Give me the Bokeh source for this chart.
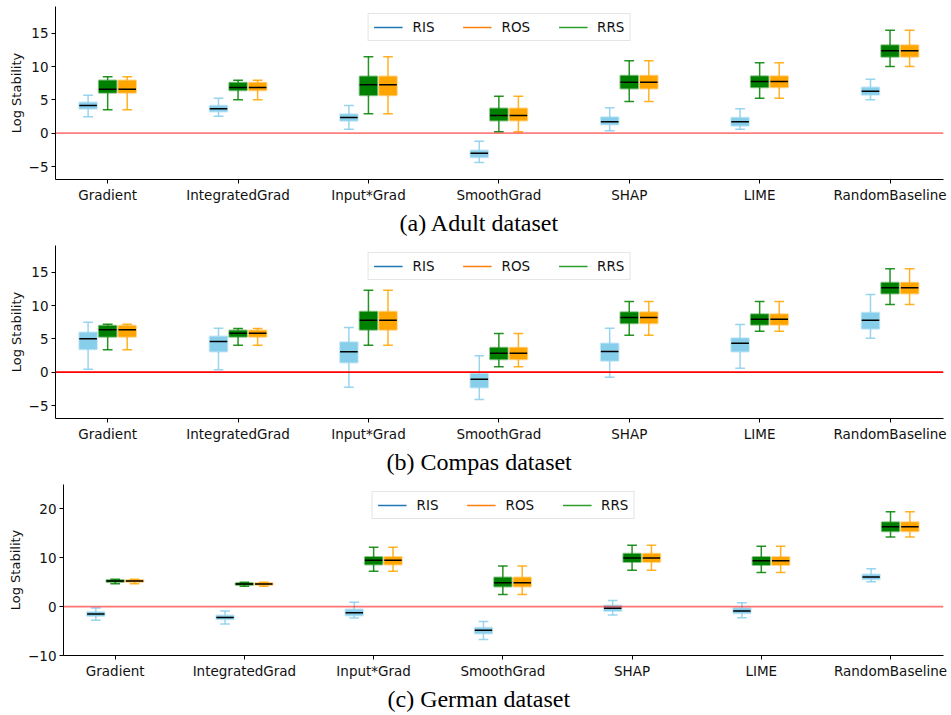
from bokeh.plotting import figure
from bokeh.models import Range1d, FixedTicker, Title, Legend, LegendItem, Span, ColumnDataSource
from bokeh.embed import file_html
from bokeh.resources import INLINE

methods = ["Gradient", "IntegratedGrad", "Input*Grad", "SmoothGrad", "SHAP", "LIME", "RandomBaseline"]
series_names = ["RIS", "ROS", "RRS"]

# ---- Adult ----
adult_ris_low = [2.45, 2.55, 0.6, -4.4, 0.35, 0.6, 5.0]
adult_ris_q1 = [3.65, 3.25, 1.85, -3.6, 1.3, 1.1, 5.75]
adult_ris_med = [4.15, 3.65, 2.35, -3.0, 1.7, 1.7, 6.3]
adult_ris_q3 = [4.6, 4.1, 2.85, -2.6, 2.4, 2.3, 6.85]
adult_ris_high = [5.7, 5.25, 4.15, -1.2, 3.8, 3.65, 8.1]
adult_rrs_low = [3.5, 5.0, 2.9, 0.2, 4.75, 5.25, 10.0]
adult_rrs_q1 = [6.05, 6.45, 5.7, 1.9, 6.7, 6.9, 11.45]
adult_rrs_med = [6.6, 6.85, 7.25, 2.65, 7.65, 7.75, 12.35]
adult_rrs_q3 = [7.9, 7.55, 8.5, 3.7, 8.6, 8.55, 13.2]
adult_rrs_high = [8.45, 7.95, 11.45, 5.55, 10.85, 10.55, 15.45]
adult_ros_low = [3.5, 5.0, 2.9, 0.2, 4.75, 5.25, 10.0]
adult_ros_q1 = [6.05, 6.45, 5.7, 1.9, 6.7, 6.9, 11.45]
adult_ros_med = [6.6, 6.85, 7.25, 2.65, 7.65, 7.75, 12.35]
adult_ros_q3 = [7.9, 7.55, 8.5, 3.7, 8.6, 8.55, 13.2]
adult_ros_high = [8.45, 7.95, 11.45, 5.55, 10.85, 10.55, 15.45]

# ---- Compas ----
compas_ris_low = [0.45, 0.35, -2.25, -4.1, -0.75, 0.6, 5.1]
compas_ris_q1 = [3.45, 3.1, 1.45, -2.3, 1.7, 3.1, 6.5]
compas_ris_med = [5.0, 4.6, 3.05, -1.05, 3.1, 4.35, 7.8]
compas_ris_q3 = [5.95, 5.35, 4.5, -0.25, 4.3, 5.1, 8.9]
compas_ris_high = [7.5, 6.6, 6.7, 2.45, 6.6, 7.15, 11.65]
compas_rrs_low = [3.35, 4.05, 4.05, 0.8, 5.55, 6.15, 10.15]
compas_rrs_q1 = [5.3, 5.3, 6.35, 1.95, 7.35, 7.1, 11.8]
compas_rrs_med = [6.35, 5.85, 7.8, 2.85, 8.2, 7.95, 12.65]
compas_rrs_q3 = [6.95, 6.25, 9.05, 3.65, 9.0, 8.7, 13.4]
compas_rrs_high = [7.2, 6.55, 12.3, 5.8, 10.6, 10.6, 15.5]
compas_ros_low = [3.35, 4.05, 4.05, 0.8, 5.55, 6.15, 10.15]
compas_ros_q1 = [5.3, 5.3, 6.35, 1.95, 7.35, 7.1, 11.8]
compas_ros_med = [6.35, 5.85, 7.8, 2.85, 8.2, 7.95, 12.65]
compas_ros_q3 = [6.95, 6.25, 9.05, 3.65, 9.0, 8.7, 13.4]
compas_ros_high = [7.2, 6.55, 12.3, 5.8, 10.6, 10.6, 15.5]

# ---- German ----
german_ris_low = [-2.8, -3.55, -2.3, -6.75, -1.7, -2.25, 5.1]
german_ris_q1 = [-1.9, -2.6, -1.8, -5.5, -0.9, -1.35, 5.6]
german_ris_med = [-1.5, -2.2, -1.25, -4.85, -0.35, -0.9, 6.05]
german_ris_q3 = [-1.1, -1.8, -0.6, -4.3, 0.25, -0.35, 6.6]
german_ris_high = [-0.3, -0.9, 0.9, -3.05, 1.25, 0.8, 7.75]
german_rrs_low = [4.7, 4.15, 7.25, 2.5, 7.45, 7.0, 14.25]
german_rrs_q1 = [5.05, 4.45, 8.65, 4.1, 9.15, 8.5, 15.45]
german_rrs_med = [5.25, 4.65, 9.5, 4.9, 9.95, 9.4, 16.35]
german_rrs_q3 = [5.45, 4.85, 10.15, 5.95, 10.85, 10.15, 17.25]
german_rrs_high = [5.6, 5.0, 12.15, 8.3, 12.55, 12.35, 19.4]
german_ros_low = [4.7, 4.15, 7.25, 2.5, 7.45, 7.0, 14.25]
german_ros_q1 = [5.05, 4.45, 8.65, 4.1, 9.15, 8.5, 15.45]
german_ros_med = [5.25, 4.65, 9.5, 4.9, 9.95, 9.4, 16.35]
german_ros_q3 = [5.45, 4.85, 10.15, 5.95, 10.85, 10.15, 17.25]
german_ros_high = [5.6, 5.0, 12.15, 8.3, 12.55, 12.35, 19.4]

adult_yticks = [-5, 0, 5, 10, 15]
compas_yticks = [-5, 0, 5, 10, 15]
german_yticks = [-10, 0, 10, 20]

positions = list(range(1, len(methods) + 1))
box_colors = {"RIS": "#87ceeb", "RRS": "#008000", "ROS": "#ffa500"}
legend_colors = {"RIS": "#1f77b4", "ROS": "#ff7f0e", "RRS": "#2ca02c"}
offsets = {"RIS": -0.15, "RRS": 0.0, "ROS": 0.15}
BOX_W = 0.135
CAP_W = 0.075
TICK_FONT = "DejaVu Sans"


def make_panel(stats, yrange, yticks, caption, zero_color, zero_alpha,
               height, top, bottom, left, cap_offset):
    p = figure(width=948, height=height, output_backend="svg", toolbar_location=None,
               x_range=Range1d(0.6, 7.41), y_range=Range1d(*yrange),
               min_border_left=left, min_border_right=5,
               min_border_top=top, min_border_bottom=bottom)
    p.outline_line_color = None
    p.grid.visible = False
    p.background_fill_color = "white"

    zero = Span(location=0, dimension="width", line_color=zero_color,
                line_alpha=zero_alpha, line_width=1.6)
    p.add_layout(zero)

    for name in ["RIS", "RRS", "ROS"]:
        low, q1, med, q3, high = stats[name]
        xs = [x + offsets[name] for x in positions]
        src = ColumnDataSource(dict(
            x=xs, low=low, q1=q1, med=med, q3=q3, high=high,
            xl=[x - BOX_W / 2 for x in xs], xr=[x + BOX_W / 2 for x in xs],
            cl=[x - CAP_W / 2 for x in xs], cr=[x + CAP_W / 2 for x in xs]))
        c = box_colors[name]
        p.segment(x0="x", y0="q3", x1="x", y1="high", source=src,
                  line_color=c, line_width=1.5, line_alpha=0.85)
        p.segment(x0="x", y0="q1", x1="x", y1="low", source=src,
                  line_color=c, line_width=1.5, line_alpha=0.85)
        p.segment(x0="cl", y0="high", x1="cr", y1="high", source=src,
                  line_color=c, line_width=1.5, line_alpha=0.85)
        p.segment(x0="cl", y0="low", x1="cr", y1="low", source=src,
                  line_color=c, line_width=1.5, line_alpha=0.85)
        p.vbar(x="x", top="q3", bottom="q1", width=BOX_W, source=src,
               fill_color=c, line_color=c, line_alpha=0.45, line_width=2)
        p.segment(x0="xl", y0="med", x1="xr", y1="med", source=src,
                  line_color="black", line_width=1.5)

    items = []
    for name in series_names:
        med = stats[name][2]
        r = p.line(x=[positions[0]], y=[med[0]], line_color=legend_colors[name], line_width=1.6)
        items.append(LegendItem(label=name, renderers=[r]))
    leg = Legend(items=items, orientation="horizontal", location="top_center",
                 glyph_width=29, glyph_height=14, label_standoff=10, spacing=28,
                 padding=5, margin=7, label_text_font=TICK_FONT,
                 label_text_font_size="13.5px", label_text_color="#111111",
                 border_line_color="#cccccc", border_line_width=1,
                 background_fill_alpha=0.85)
    p.add_layout(leg, "center")

    p.xaxis.ticker = FixedTicker(ticks=positions)
    p.xaxis.major_label_overrides = {pos: m for pos, m in zip(positions, methods)}
    p.yaxis.ticker = FixedTicker(ticks=yticks)
    p.yaxis.major_label_overrides = {t: (str(t) if t >= 0 else "\u2212" + str(-t)) for t in yticks}
    for ax in (p.xaxis, p.yaxis):
        ax.minor_tick_line_color = None
        ax.major_tick_out = 4
        ax.major_tick_in = 0
        ax.axis_line_color = "black"
        ax.major_tick_line_color = "black"
        ax.major_label_text_font = TICK_FONT
        ax.major_label_text_font_size = "13.5px"
        ax.major_label_text_color = "#111111"
        ax.major_label_standoff = 3
    p.yaxis.axis_label = "Log Stability"
    p.yaxis.axis_label_text_font = TICK_FONT
    p.yaxis.axis_label_text_font_size = "13px"
    p.yaxis.axis_label_text_font_style = "normal"
    p.yaxis.axis_label_text_color = "#111111"
    p.yaxis.axis_label_standoff = 2

    t = Title(text=caption, align="left", offset=cap_offset,
              text_font="Liberation Serif", text_font_size="24px",
              text_font_style="normal", text_color="black", standoff=4)
    p.add_layout(t, "below")
    return p


def stats_of(prefix):
    g = globals()
    out = {}
    for s in ["ris", "rrs", "ros"]:
        out[s.upper()] = [g[f"{prefix}_{s}_{k}"] for k in ["low", "q1", "med", "q3", "high"]]
    return out


pa = make_panel(stats_of("adult"), (-6.95, 19.0), adult_yticks, "(a) Adult dataset",
                "red", 0.5, 239, 6, 60, 55, 344)
pb = make_panel(stats_of("compas"), (-6.95, 19.0), compas_yticks, "(b) Compas dataset",
                "red", 1.0, 239, 6, 60, 55, 331)
pc = make_panel(stats_of("german"), (-10.0, 25.0), german_yticks, "(c) German dataset",
                "red", 0.55, 235, 6, 57, 63, 324)

open("out.html", "w").write(file_html([pa, pb, pc], INLINE))
